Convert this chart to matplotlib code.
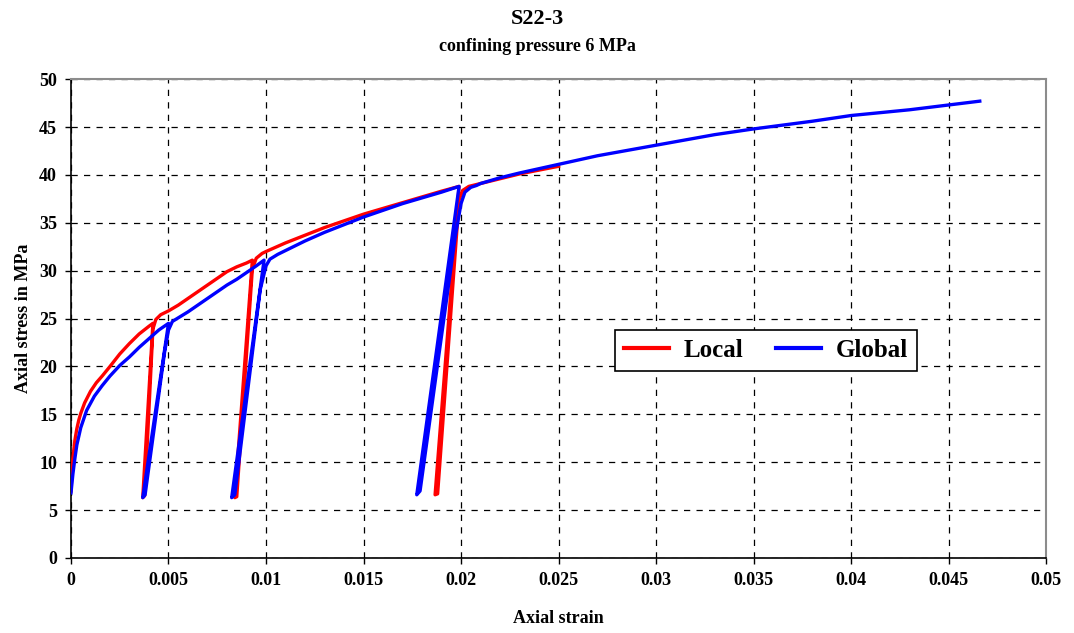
import numpy as np
import matplotlib
matplotlib.use('Agg')
import matplotlib.pyplot as plt

plt.rcParams['font.family'] = ['Liberation Serif', 'DejaVu Serif']
plt.rcParams['font.weight'] = 'bold'

# Local (red) strain / stress, with unload-reload loops
local_strain = [0, 0.00005, 0.0001, 0.0002, 0.0003, 0.0004, 0.0005, 0.0007, 0.001, 0.0013,
                0.0016, 0.002, 0.0025, 0.003, 0.0035, 0.004, 0.0042,
                0.00368, 0.00378, 0.0042, 0.00435, 0.0046, 0.005,
                0.0055, 0.006, 0.0065, 0.007, 0.0075, 0.008, 0.0085, 0.009, 0.0093,
                0.0084, 0.0085, 0.0093, 0.0095, 0.0098, 0.01,
                0.011, 0.012, 0.013, 0.014, 0.015, 0.016, 0.017, 0.018, 0.019, 0.0199,
                0.01867, 0.0188, 0.0199, 0.0201, 0.0204, 0.0208, 0.021,
                0.022, 0.023, 0.024, 0.025]
local_stress = [7.0, 9.0, 10.5, 12.3, 13.5, 14.4, 15.1, 16.2, 17.4, 18.3,
                19.0, 20.0, 21.3, 22.4, 23.4, 24.2, 24.5,
                6.3, 6.5, 23.9, 24.9, 25.4, 25.8,
                26.4, 27.1, 27.8, 28.5, 29.2, 29.9, 30.4, 30.8, 31.1,
                6.3, 6.4, 30.2, 31.3, 31.8, 32.0,
                32.9, 33.7, 34.5, 35.2, 35.9, 36.5, 37.1, 37.7, 38.3, 38.8,
                6.6, 6.7, 37.4, 38.4, 38.8, 39.0, 39.1,
                39.6, 40.1, 40.5, 40.9]

# Global (blue) strain / stress
global_strain = [0, 0.0001, 0.0002, 0.0003, 0.0005, 0.0008, 0.0012, 0.0016, 0.002, 0.0025,
                 0.003, 0.0035, 0.004, 0.0045, 0.005,
                 0.00368, 0.0038, 0.0048, 0.0050, 0.0052, 0.0056,
                 0.006, 0.0065, 0.007, 0.0075, 0.008, 0.0085, 0.009, 0.0095, 0.0099,
                 0.00824, 0.0084, 0.0097, 0.0100, 0.0102, 0.0106, 0.011,
                 0.012, 0.013, 0.014, 0.015, 0.016, 0.017, 0.018, 0.019, 0.0199,
                 0.01773, 0.0179, 0.0197, 0.0200, 0.0202, 0.0205, 0.0208, 0.021,
                 0.022, 0.023, 0.025, 0.027, 0.03, 0.033, 0.035, 0.038, 0.04, 0.043,
                 0.045, 0.0466]
global_stress = [6.8, 8.8, 10.4, 11.8, 13.6, 15.4, 16.9, 18.0, 19.0, 20.1,
                 21.0, 22.0, 22.9, 23.8, 24.5,
                 6.3, 6.6, 21.5, 23.8, 24.7, 25.2,
                 25.7, 26.4, 27.1, 27.8, 28.5, 29.1, 29.8, 30.5, 31.1,
                 6.3, 6.6, 28.0, 30.5, 31.2, 31.7, 32.1,
                 33.1, 34.0, 34.8, 35.6, 36.3, 37.0, 37.6, 38.2, 38.8,
                 6.6, 7.0, 33.5, 37.0, 38.2, 38.7, 38.9, 39.1,
                 39.7, 40.2, 41.1, 42.0, 43.1, 44.2, 44.8, 45.6, 46.2, 46.8,
                 47.3, 47.7]

x_ticks = [0, 0.005, 0.01, 0.015, 0.02, 0.025, 0.03, 0.035, 0.04, 0.045, 0.05]
x_labels = ['0', '0.005', '0.01', '0.015', '0.02', '0.025', '0.03', '0.035', '0.04', '0.045', '0.05']
y_ticks = list(range(0, 51, 5))

fig = plt.figure(figsize=(10.74, 6.33), dpi=100)
ax = fig.add_axes([0.0661, 0.1185, 0.9079, 0.7565])

ax.plot(local_strain, local_stress, color='#ff0000', lw=2.4, label='Local', zorder=3)
ax.plot(global_strain, global_stress, color='#0000ff', lw=2.4, label='Global', zorder=4)

ax.set_xlim(0, 0.05)
ax.set_ylim(0, 50)
ax.set_xticks(x_ticks)
ax.set_xticklabels(x_labels)
ax.set_yticks(y_ticks)
ax.tick_params(direction='out', length=4, width=1, labelsize=13, pad=6)
for lab in ax.get_xticklabels() + ax.get_yticklabels():
    lab.set_fontweight('bold')

ax.grid(True, color='black', linestyle=(0, (5, 5)), linewidth=0.9, zorder=1)
ax.set_axisbelow(True)
for s in ['left', 'bottom']:
    ax.spines[s].set_color('black')
    ax.spines[s].set_linewidth(1.2)
for s in ['top', 'right']:
    ax.spines[s].set_color('#8c8c8c')
    ax.spines[s].set_linewidth(1.5)

ax.set_xlabel('Axial strain', fontsize=13, fontweight='bold', labelpad=15)
ax.set_ylabel('Axial stress in MPa', fontsize=13, fontweight='bold', labelpad=5)

fig.text(0.5, 0.97, 'S22-3', ha='center', va='center', fontsize=16, fontweight='bold')
fig.text(0.5, 0.926, 'confining pressure 6 MPa', ha='center', va='center', fontsize=13, fontweight='bold')

leg = ax.legend(loc='center', bbox_to_anchor=(0.713, 0.433), ncol=2, fontsize=18,
                frameon=True, fancybox=False, edgecolor='black', framealpha=1,
                handlelength=1.8, columnspacing=1.3, handletextpad=0.6,
                borderpad=0.35, borderaxespad=0)
leg.get_frame().set_linewidth(1.2)
for t in leg.get_texts():
    t.set_fontweight('bold')
for l in leg.get_lines():
    l.set_linewidth(3)

fig.savefig('out.png', dpi=100)
